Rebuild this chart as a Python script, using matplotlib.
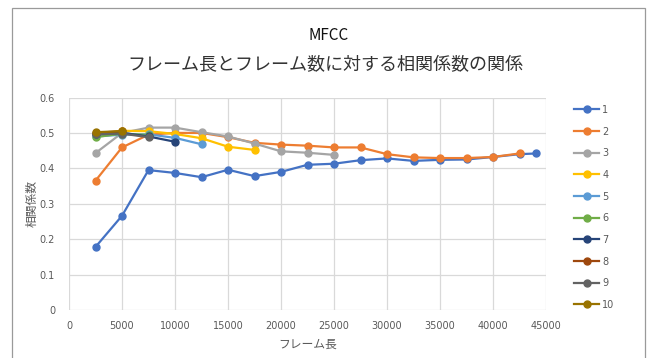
import matplotlib
matplotlib.use("Agg")
import matplotlib.pyplot as plt
from matplotlib.patches import Rectangle

plt.rcParams['font.family'] = ['Noto Sans CJK JP', 'DejaVu Sans']

# Frame lengths (x) shared by all series
frame_len = [2500, 5000, 7500, 10000, 12500, 15000, 17500, 20000, 22500,
             25000, 27500, 30000, 32500, 35000, 37500, 40000, 42500, 44100]

s1 = [0.178, 0.266, 0.395, 0.387, 0.375, 0.396, 0.378, 0.390, 0.410,
      0.413, 0.423, 0.428, 0.421, 0.424, 0.425, 0.432, 0.440, 0.442]
s2 = [0.365, 0.459, 0.495, 0.500, 0.500, 0.488, 0.472, 0.467, 0.464,
      0.459, 0.459, 0.440, 0.431, 0.429, 0.429, 0.432, 0.442]
s3 = [0.443, 0.500, 0.515, 0.515, 0.502, 0.490, 0.470, 0.448, 0.444, 0.438]
s4 = [0.496, 0.506, 0.505, 0.497, 0.485, 0.461, 0.452]
s5 = [0.490, 0.495, 0.496, 0.486, 0.468]
s6 = [0.488, 0.498, 0.494]
s7 = [0.498, 0.500, 0.490, 0.475]
s8 = [0.500, 0.505]
s9 = [0.496, 0.498, 0.488]
s10 = [0.502, 0.505]

series = [s1, s2, s3, s4, s5, s6, s7, s8, s9, s10]
labels = ['1', '2', '3', '4', '5', '6', '7', '8', '9', '10']
colors = ['#4472C4', '#ED7D31', '#A5A5A5', '#FFC000', '#5B9BD5',
          '#70AD47', '#264478', '#9E480E', '#636363', '#997300']

x_ticks = [0, 5000, 10000, 15000, 20000, 25000, 30000, 35000, 40000, 45000]
y_ticks = [0, 0.1, 0.2, 0.3, 0.4, 0.5, 0.6]
y_tick_labels = ['0', '0.1', '0.2', '0.3', '0.4', '0.5', '0.6']

fig = plt.figure(figsize=(6.49, 3.58), dpi=100)
fig.patch.set_facecolor('white')

# chart frame
fig.patches.append(Rectangle((12 / 649, -0.1), (645 - 12) / 649, 1.1 - 8 / 358,
                             transform=fig.transFigure, fill=False,
                             edgecolor='#9A9A9A', linewidth=0.9))

ax = fig.add_axes([69 / 649, 1 - 310 / 358, (546 - 69) / 649, (310 - 97.5) / 358])

for vals, lab, col in zip(series, labels, colors):
    ax.plot(frame_len[:len(vals)], vals, color=col, label=lab,
            linewidth=1.6, marker='o', markersize=5, zorder=3)

ax.set_xlim(0, 45000)
ax.set_ylim(0, 0.6)
ax.set_xticks(x_ticks)
ax.set_xticklabels([str(v) for v in x_ticks])
ax.set_yticks(y_ticks)
ax.set_yticklabels(y_tick_labels)
ax.grid(True, color='#D9D9D9', linewidth=0.9, zorder=0)
ax.set_axisbelow(True)
for sp in ax.spines.values():
    sp.set_visible(False)
ax.tick_params(axis='both', length=0, labelsize=7, labelcolor='#595959')
ax.tick_params(axis='x', pad=8)
ax.tick_params(axis='y', pad=10)
for t in ax.get_xticklabels() + ax.get_yticklabels():
    t.set_family(['DejaVu Sans'])

ax.set_xlabel('フレーム長', fontsize=8.5, color='#595959', labelpad=5)
ax.set_ylabel('相関係数', fontsize=8.5, color='#595959', labelpad=1)

fig.text(0.5 * (12 + 645) / 649, 1 - 36 / 358, 'MFCC', ha='center', va='center',
         fontsize=11, color='#111111')
fig.text(0.5 * (12 + 645) / 649 - 0.005, 1 - 65 / 358,
         'フレーム長とフレーム数に対する相関係数の関係',
         ha='center', va='center', fontsize=13, color='#333333')

leg = ax.legend(loc='upper left', bbox_to_anchor=(570 / 649, 1 - 101 / 358),
                bbox_transform=fig.transFigure, frameon=False, fontsize=7,
                handlelength=2.6, handletextpad=0.3, labelspacing=1.2,
                borderaxespad=0)
for t in leg.get_texts():
    t.set_color('#595959')
    t.set_family(['DejaVu Sans'])

fig.savefig('out.png', dpi=100)
